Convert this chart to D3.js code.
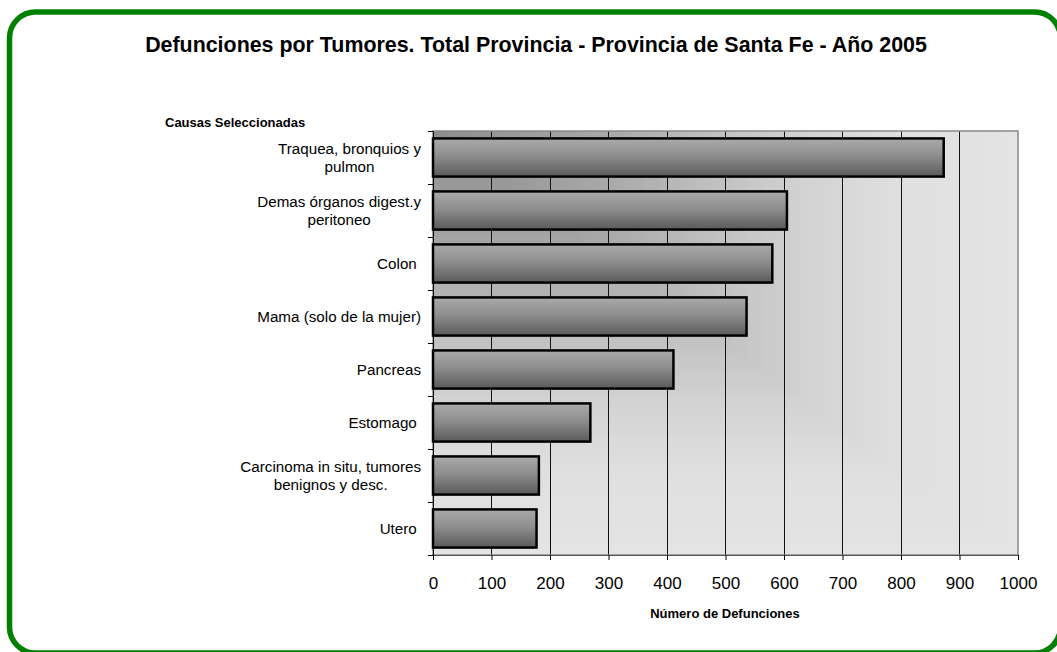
<!DOCTYPE html>
<html>
<head>
<meta charset="utf-8">
<script src="https://cdn.jsdelivr.net/npm/d3@7"></script>
<style>
  html, body { margin: 0; padding: 0; background: #fff; }
  svg { display: block; font-family: "Liberation Sans", Arial, sans-serif; }
</style>
</head>
<body>
<svg id="chart" width="1057" height="652"></svg>
<script>
const title = "Defunciones por Tumores. Total Provincia - Provincia de Santa Fe - Año 2005";
const yAxisTitle = "Causas Seleccionadas";
const xAxisTitle = "Número de Defunciones";
const categories = [
  ["Traquea, bronquios y", "pulmon"],
  ["Demas órganos digest.y", "peritoneo"],
  ["Colon "],
  ["Mama (solo de la mujer)"],
  ["Pancreas"],
  ["Estomago "],
  ["Carcinoma in situ, tumores", "benignos y desc."],
  ["Utero "]
];
const values = [873, 605, 580, 536, 411, 269, 181, 177];
const xTicks = [0, 100, 200, 300, 400, 500, 600, 700, 800, 900, 1000];

const svg = d3.select("#chart");
const m = { left: 433, right: 1018, top: 131, bottom: 555 };
const pw = m.right - m.left, ph = m.bottom - m.top;

const defs = svg.append("defs");
const bg = defs.append("linearGradient").attr("id", "barGrad")
  .attr("x1", 0).attr("y1", 0).attr("x2", 0).attr("y2", 1);
bg.append("stop").attr("offset", "0%").attr("stop-color", "#aaaaaa");
bg.append("stop").attr("offset", "45%").attr("stop-color", "#8e8e8e");
bg.append("stop").attr("offset", "100%").attr("stop-color", "#5a5a5a");

// outer green rounded frame
svg.append("rect")
  .attr("x", 9.5).attr("y", 12).attr("width", 1051).attr("height", 641)
  .attr("rx", 26).attr("ry", 26)
  .attr("fill", "#fff").attr("stroke", "#008000").attr("stroke-width", 5.5);

// title
svg.append("text")
  .attr("x", 536).attr("y", 52)
  .attr("text-anchor", "middle")
  .attr("font-size", 21.4).attr("font-weight", "bold").attr("fill", "#000")
  .text(title);

const x = d3.scaleLinear().domain([0, 1000]).range([m.left, m.right]);
const y = d3.scaleBand().domain(d3.range(categories.length))
  .range([m.top, m.bottom]).paddingInner(0.28).paddingOuter(0.14);
const yb = d3.scaleLinear().domain([0, categories.length]).range([m.top, m.bottom]);

// plot background: corner gradient (dark at top-left)
const shade = d3.scaleLinear()
  .domain([0, 0.3, 0.5, 0.65, 0.8, 1])
  .range(["#8c8c8c", "#a8a8a8", "#c2c2c2", "#d3d3d3", "#dfdfdf", "#e4e4e4"]);
const steps = d3.range(80, 0, -1).map(i => i / 80);
svg.append("g").selectAll("rect").data(steps).join("rect")
  .attr("x", m.left).attr("y", m.top)
  .attr("width", t => pw * t).attr("height", t => ph * t)
  .attr("fill", t => shade(t));

// gridlines
svg.append("g").selectAll("line").data(xTicks.slice(1, -1)).join("line")
  .attr("x1", d => x(d)).attr("x2", d => x(d))
  .attr("y1", m.top).attr("y2", m.bottom)
  .attr("stroke", "#111").attr("stroke-width", 1).attr("shape-rendering", "crispEdges");

// plot border
svg.append("rect")
  .attr("x", m.left).attr("y", m.top).attr("width", pw).attr("height", ph)
  .attr("fill", "none").attr("stroke", "#8a8a8a").attr("stroke-width", 1.5);

// bars
svg.append("g").selectAll("rect").data(values).join("rect")
  .attr("x", x(0))
  .attr("y", (d, i) => y(i))
  .attr("width", d => x(d) - x(0))
  .attr("height", y.bandwidth())
  .attr("fill", "url(#barGrad)")
  .attr("stroke", "#000").attr("stroke-width", 2.5);

// y axis ticks at category boundaries
const yAxis = svg.append("g").attr("transform", `translate(${m.left},0)`)
  .call(d3.axisLeft(yb).tickValues(d3.range(categories.length + 1)).tickFormat("").tickSize(5).tickSizeOuter(0));
yAxis.select(".domain").attr("stroke", "#000");
yAxis.selectAll(".tick line").attr("stroke", "#000");

// x axis
const xAxis = svg.append("g").attr("transform", `translate(0,${m.bottom})`)
  .call(d3.axisBottom(x).tickValues(xTicks).tickFormat(d3.format("d"))
    .tickSize(5).tickSizeOuter(0).tickPadding(17));
xAxis.select(".domain").attr("stroke", "#555");
xAxis.selectAll(".tick line").attr("stroke", "#000");
xAxis.selectAll(".tick text").attr("font-size", 17).attr("fill", "#000")
  .attr("font-family", "Liberation Sans, Arial, sans-serif");

// category labels
const labelRight = 421;
const lineH = 17.5;
const lg = svg.append("g").attr("font-size", 15.2).attr("fill", "#000");
categories.forEach((lines, i) => {
  const cy = y(i) + y.bandwidth() / 2;
  const t = lg.append("text").attr("text-anchor", "middle")
    .style("white-space", "pre");
  const spans = lines.map((ln, k) => t.append("tspan")
    .attr("y", cy + (k - (lines.length - 1) / 2) * lineH + 5.3)
    .text(ln));
  const widths = spans.map(s => s.node().getComputedTextLength());
  const maxW = d3.max(widths);
  spans.forEach(s => s.attr("x", labelRight - maxW / 2));
});

// axis titles
svg.append("text").attr("x", 165).attr("y", 127)
  .attr("font-size", 13).attr("font-weight", "bold").text(yAxisTitle);
svg.append("text").attr("x", 725).attr("y", 618).attr("text-anchor", "middle")
  .attr("font-size", 13).attr("font-weight", "bold").text(xAxisTitle);
</script>
</body>
</html>
